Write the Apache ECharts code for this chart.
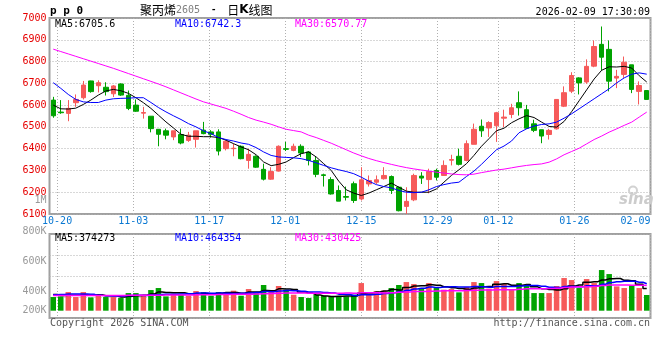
<!DOCTYPE html>
<html>
<head>
<meta charset="utf-8">
<script src="https://cdn.jsdelivr.net/npm/echarts@6/dist/echarts.min.js"></script>
<style>html,body{margin:0;padding:0;background:#fff}#c{width:660px;height:360px}</style>
</head>
<body>
<div id="c"></div>
<script>
const dates = ['10-17',
 '10-20','10-21','10-22','10-23','10-24','10-27','10-28','10-29','10-30','10-31',
 '11-03','11-04','11-05','11-06','11-07','11-10','11-11','11-12','11-13','11-14',
 '11-17','11-18','11-19','11-20','11-21','11-24','11-25','11-26','11-27','11-28',
 '12-01','12-02','12-03','12-04','12-05','12-08','12-09','12-10','12-11','12-12',
 '12-15','12-16','12-17','12-18','12-19','12-22','12-23','12-24','12-25','12-26',
 '12-29','12-30','12-31','01-05','01-06','01-07','01-08','01-09',
 '01-12','01-13','01-14','01-15','01-16','01-19','01-20','01-21','01-22','01-23',
 '01-26','01-27','01-28','01-29','01-30','02-02','02-03','02-04','02-05','02-06',
 '02-09'];
const xLabelDates = ['10-20','11-03','11-17','12-01','12-15','12-29','01-12','01-26','02-09'];

const open = [6623,6568,6562,6611,6634,6711,6689,6682,6652,6697, 6645,6600,6563,6549,6489,6482,6454,6465,6438,6443,
 6485,6477,6477,6400,6400,6411,6346,6365,6305,6260, 6297,6400,6392,6411,6385,6346,6280,6258,6208,6180,
 6239,6169,6238,6246,6262,6272,6223,6135,6165,6274, 6258,6300,6277,6347,6365,6346,6420,6503,6495,6505,
 6540,6557,6611,6579,6514,6487,6465,6491,6595,6664, 6725,6706,6779,6879,6856,6724,6741,6785,6663,6667];
const close = [6551,6565,6585,6626,6692,6662,6703,6662,6688,6646, 6585,6572,6566,6492,6466,6462,6482,6426,6462,6482,
 6469,6466,6389,6434,6402,6354,6374,6315,6260,6295, 6411,6397,6411,6380,6346,6282,6277,6192,6159,6177,
 6162,6257,6254,6257,6277,6208,6115,6158,6277,6265, 6295,6269,6323,6350,6328,6423,6489,6482,6520,6565,
 6545,6588,6588,6494,6484,6458,6484,6626,6657,6736, 6702,6778,6869,6820,6710,6732,6797,6672,6690,6626];
const low = [6542,6560,6526,6592,6626,6657,6658,6644,6637,6642, 6577,6569,6538,6475,6411,6443,6439,6420,6431,6405,
 6466,6451,6369,6392,6365,6351,6308,6312,6254,6257, 6295,6389,6388,6362,6323,6269,6226,6189,6159,6162,
 6151,6162,6226,6238,6258,6192,6112,6100,6159,6238, 6195,6254,6277,6323,6323,6342,6420,6454,6454,6431,
 6499,6540,6552,6491,6476,6425,6442,6488,6591,6655, 6649,6698,6774,6759,6663,6678,6725,6655,6603,6626];
const high = [6638,6623,6623,6649,6711,6712,6714,6705,6692,6700, 6667,6626,6592,6549,6489,6492,6482,6492,6477,6482,
 6523,6485,6489,6438,6423,6415,6400,6369,6331,6315, 6415,6431,6423,6420,6389,6362,6285,6269,6231,6226,
 6249,6315,6277,6277,6315,6277,6226,6223,6285,6292, 6308,6308,6346,6372,6400,6438,6515,6534,6526,6569,
 6579,6606,6663,6601,6533,6487,6491,6626,6686,6751, 6728,6810,6897,6961,6897,6762,6823,6785,6709,6667];

const ma5 = [6600,6583,6582,6586,6603,6623,6646,6665,6672,6666, 6654,6634,6611,6585,6554,6523,6495,6466,6457,6457,
 6455,6455,6451,6439,6423,6408,6395,6372,6339,6322, 6328,6339,6359,6377,6385,6362,6331,6300,6251,6211,
 6196,6185,6196,6211,6226,6242,6223,6205,6200,6200, 6200,6215,6246,6277,6303,6331,6369,6411,6446,6482,
 6494,6519,6537,6552,6543,6522,6502,6499,6525,6570, 6620,6670,6720,6760,6776,6775,6778,6770,6735,6706];
const ma10 = [6703,6677,6649,6626,6615,6612,6612,6623,6629,6631, 6632,6634,6634,6612,6589,6569,6551,6534,6515,6500,
 6482,6469,6451,6442,6435,6426,6420,6405,6385,6369, 6362,6360,6358,6354,6346,6335,6323,6312,6303,6295,
 6285,6269,6251,6235,6226,6220,6208,6200,6198,6200, 6211,6226,6235,6242,6246,6272,6297,6328,6362,6395,
 6412,6435,6473,6491,6504,6511,6514,6522,6540,6560, 6583,6606,6629,6652,6675,6702,6725,6742,6748,6742];
const ma30 = [6857,6846,6835,6824,6813,6802,6791,6780,6769,6757, 6745,6733,6721,6709,6697,6684,6670,6656,6642,6628,
 6615,6605,6595,6585,6572,6558,6543,6531,6522,6512, 6500,6489,6483,6477,6462,6451,6438,6425,6410,6395,
 6380,6367,6355,6345,6336,6328,6320,6313,6307,6302, 6297,6292,6288,6284,6281,6280,6283,6290,6296,6302,
 6306,6312,6318,6323,6327,6330,6338,6353,6372,6387, 6402,6422,6442,6458,6476,6491,6507,6522,6545,6568];

// volume in thousands
const volume = [231,242,315,231,315,225,253,231,231,214, 298,298,259,349,383,242,287,265,253,332,
 315,253,315,315,338,253,366,315,434,315, 417,355,270,231,214,265,253,242,242,242,
 270,467,270,327,338,383,434,484,450,366, 467,383,355,366,310,400,484,467,372,501,
 450,366,467,434,298,298,298,417,552,518, 383,535,467,687,619,411,383,428,383,265];
const volMa5 = [275,258,262,262,267,266,268,251,251,231, 245,254,260,284,317,306,304,305,286,276,
 290,284,294,306,307,295,317,317,341,337, 369,367,358,318,297,267,247,241,243,249,
 250,293,298,315,334,357,350,393,418,423, 440,430,404,387,376,363,383,405,407,445,
 455,431,431,444,403,373,359,349,373,417, 434,481,491,518,538,544,513,506,445,374];
const volMa10 = [270,275,281,281,281,276,259,253,250,249, 256,261,256,267,274,276,279,283,285,297,
 298,294,299,296,292,293,301,306,324,322, 332,342,338,329,317,318,307,300,280,273,
 258,270,270,279,292,303,322,346,367,379, 399,390,399,403,400,402,407,405,397,411,
 409,407,418,425,424,414,395,390,408,410, 403,420,420,445,477,489,497,498,481,456];
const volMa30 = [255,255,255,256,256,256,257,257,258,258, 259,260,261,262,263,264,265,266,267,268,
 270,271,272,274,276,278,280,283,286,289, 295,299,298,298,294,296,296,296,296,297,
 296,302,302,302,300,305,310,317,324,325, 330,334,335,337,336,341,345,350,348,354,
 355,356,362,369,372,373,374,380,391,400, 404,406,412,424,434,435,433,431,429,425];
const volTickLabels = ['200K','400K','600K','800K'];

const priceLegend = ['MA5:6705.6','MA10:6742.3','MA30:6570.77'];
const volLegend = ['MA5:374273','MA10:464354','MA30:430425'];

const UP = '#f65a5a', DOWN = '#00a300';
const MONO = '"DejaVu Sans Mono", monospace';
const GRID_LEFT = 49.5, GRID_W = 601;
const dotted = {color:'#b0b0b0', type:[1,2], width:1};
const isLabelDate = (i, v) => xLabelDates.indexOf(v) >= 0;

const chart = echarts.init(document.getElementById('c'), null, {renderer:'canvas'});
const candleData = open.map((o, i) => [o, close[i], low[i], high[i]]);

function legendTexts(list, y) {
  const xs = [55, 175, 295], cols = ['#000000', '#0000ff', '#ff00ff'];
  return list.map((t, i) => ({type:'text', z:100, style:{text:t, x:xs[i], y:y, fill:cols[i],
    font:'10px ' + MONO, textVerticalAlign:'middle'}}));
}

const option = {
  animation: false,
  backgroundColor: '#fff',
  grid: [
    {left:GRID_LEFT, top:18, width:GRID_W, height:196, show:true, borderColor:'#a0a0a0', borderWidth:2, backgroundColor:'transparent'},
    {left:GRID_LEFT, top:234, width:GRID_W, height:84, show:true, borderColor:'#a0a0a0', borderWidth:2, backgroundColor:'transparent'},
    {left:GRID_LEFT, top:234, width:GRID_W, height:76.7, show:false},
    {left:GRID_LEFT, top:231, width:GRID_W, height:90, show:false}
  ],
  xAxis: [
    {gridIndex:0, type:'category', data:dates, boundaryGap:true, show:false, position:'top'},
    {gridIndex:0, type:'category', data:dates, boundaryGap:false, position:'bottom',
      axisLine:{show:false}, axisTick:{show:false},
      axisLabel:{interval:isLabelDate, color:'#0a78d2', fontSize:10, fontFamily:MONO, margin:2,
        showMaxLabel:true, alignMaxLabel:'right', hideOverlap:false},
      splitLine:{show:true, interval:isLabelDate, lineStyle:dotted}},
    {gridIndex:1, type:'category', data:dates, boundaryGap:false,
      axisLine:{show:false}, axisTick:{show:false}, axisLabel:{show:false},
      splitLine:{show:true, interval:isLabelDate, lineStyle:dotted}},
    {gridIndex:2, type:'category', data:dates, boundaryGap:true, show:false},
    {gridIndex:3, type:'category', data:dates, boundaryGap:true, show:false}
  ],
  yAxis: [
    {gridIndex:0, type:'value', min:6100, max:7000, interval:100, axisLine:{show:false}, axisTick:{show:false},
      axisLabel:{color:'#e60000', fontSize:10, fontFamily:MONO, margin:3, padding:[0,0,4,0], formatter: v => String(v)},
      splitLine:{show:true, lineStyle:dotted}},
    {gridIndex:1, type:'value', min:0, max:4, interval:1, axisLine:{show:false}, axisTick:{show:false},
      axisLabel:{show:false}, splitLine:{show:true, lineStyle:dotted}},
    {gridIndex:2, type:'value', min:0, max:1296, show:false},
    {gridIndex:3, type:'value', min:200, max:800, interval:200, axisLine:{show:false}, axisTick:{show:false},
      splitLine:{show:false},
      axisLabel:{color:'#999999', fontSize:10, fontFamily:MONO, margin:3,
        formatter: v => { const t = volTickLabels[Math.round(v/200) - 1] || ''; return v === 200 ? '{s|' + t + '}' : t; },
        rich:{s:{color:'#999999', fontSize:10, fontFamily:MONO, padding:[0,0,22,0]}}}}
  ],
  series: [
    {type:'candlestick', xAxisIndex:0, yAxisIndex:0, data:candleData, barWidth:5,
      itemStyle:{color:UP, color0:DOWN, borderColor:UP, borderColor0:DOWN, borderWidth:1}, silent:true},
    {type:'line', xAxisIndex:0, yAxisIndex:0, data:ma5, symbol:'none', silent:true, lineStyle:{color:'#000', width:1}, z:5},
    {type:'line', xAxisIndex:0, yAxisIndex:0, data:ma10, symbol:'none', silent:true, lineStyle:{color:'#0000ff', width:1}, z:5},
    {type:'line', xAxisIndex:0, yAxisIndex:0, data:ma30, symbol:'none', silent:true, lineStyle:{color:'#ff00ff', width:1}, z:5},
    {type:'bar', xAxisIndex:3, yAxisIndex:2, data:volume, barWidth:5.5, silent:true,
      itemStyle:{color: p => close[p.dataIndex] >= open[p.dataIndex] ? UP : DOWN}},
    {type:'line', xAxisIndex:3, yAxisIndex:2, data:volMa5, step:'middle', symbol:'none', silent:true, lineStyle:{color:'#000', width:1.5}, z:5},
    {type:'line', xAxisIndex:3, yAxisIndex:2, data:volMa10, step:'middle', symbol:'none', silent:true, lineStyle:{color:'#0000ff', width:1.5}, z:5},
    {type:'line', xAxisIndex:3, yAxisIndex:2, data:volMa30, step:'middle', symbol:'none', silent:true, lineStyle:{color:'#ff00ff', width:1.5}, z:5}
  ],
  graphic: [
    {type:'text', z:100, style:{text:'p p 0', x:50, y:11, fill:'#000', font:'bold 11px ' + MONO, textVerticalAlign:'middle'}},
    {type:'text', z:100, style:{text:'{a|聚丙烯}{b|2605}{m|  -  }{a|日}{k|K}{a|线图}', x:140, y:10, textVerticalAlign:'middle',
      rich:{a:{fontSize:12, fontFamily:'"Noto Sans CJK SC"', fill:'#000'},
            b:{fontSize:10, fontFamily:MONO, fill:'#808080'},
            m:{fontSize:9, fontFamily:MONO, fill:'#000', fontWeight:'bold'},
            k:{fontSize:12, fontFamily:'"DejaVu Sans"', fontWeight:'bold', fill:'#000'}}}},
    {type:'text', z:100, style:{text:'2026-02-09 17:30:09', x:650, y:12, fill:'#000', font:'10px ' + MONO, textAlign:'right', textVerticalAlign:'middle'}},
    ...legendTexts(priceLegend, 24),
    ...legendTexts(volLegend, 238.5),
    {type:'text', z:100, style:{text:'1M', x:46.5, y:200, fill:'#999', font:'10px ' + MONO, textAlign:'right', textVerticalAlign:'middle'}},
    {type:'text', z:100, style:{text:'Copyright 2026 SINA.COM', x:50, y:323.5, fill:'#555', font:'10px ' + MONO, textVerticalAlign:'middle'}},
    {type:'text', z:100, style:{text:'http://finance.sina.com.cn', x:650, y:323.5, fill:'#555', font:'10px ' + MONO, textAlign:'right', textVerticalAlign:'middle'}},
    {type:'circle', z:1, shape:{cx:633, cy:190.5, r:4}, style:{fill:'none', stroke:'#d2d2d2', lineWidth:2}},
    {type:'text', z:1, style:{text:'sina', x:619, y:200.5, fill:'#cccccc', font:'italic bold 15px "DejaVu Sans"', textVerticalAlign:'middle'}}
  ]
};
chart.setOption(option);
</script>
</body>
</html>
